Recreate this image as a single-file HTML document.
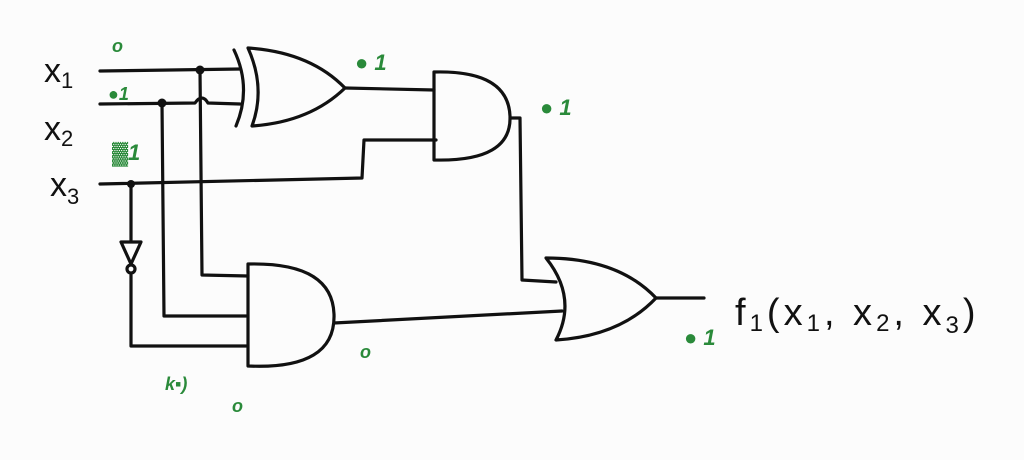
<!DOCTYPE html>
<html><head><meta charset="utf-8"><style>
body{margin:0;width:1024px;height:460px;background:#fcfcfc;overflow:hidden}
svg{display:block}
.w{fill:none;stroke:#111;stroke-width:3.2;stroke-linecap:round;stroke-linejoin:round}
.t{font-family:"Liberation Sans",sans-serif;fill:#111}
.g{font-family:"Liberation Sans",sans-serif;fill:#2a8a3a;font-style:italic;font-weight:bold}
</style></head><body>
<svg width="1024" height="460" viewBox="0 0 1024 460">
<g>
<text class="t" x="44" y="82" font-size="34">x<tspan font-size="22" dy="6">1</tspan></text>
<text class="t" x="44" y="140" font-size="34">x<tspan font-size="22" dy="6">2</tspan></text>
<text class="t" x="50" y="196" font-size="34">x<tspan font-size="22" dy="8">3</tspan></text>
</g>
<g>
<path class="w" d="M100 71 L240 69"/>
<path class="w" d="M100 104 L195 103 Q202 93 208 103 L240 104"/>
<path class="w" d="M200 70 L202 275 L248 276"/>
<path class="w" d="M162 103 L164 316 L246 316"/>
<path class="w" d="M100 184 L362 178 L364 140 L436 140"/>
<path class="w" d="M131 184 L131 240"/>
<path class="w" d="M131 275 L131 346 L246 346"/>
<path class="w" d="M345 88 L434 90"/>
<path class="w" d="M510 118 L520 118 L522 280 L556 282"/>
<path class="w" d="M334 323 L562 311"/>
<path class="w" d="M656 298 L704 298"/>
</g>
<g>
<circle cx="200" cy="70" r="4.5" fill="#111"/><circle cx="162" cy="103" r="4.5" fill="#111"/><circle cx="131" cy="184" r="4" fill="#111"/>
</g>
<g>
<path class="w" d="M234 50 Q252 88 236 126"/>
<path class="w" d="M248 48 Q266 88 252 126 Q310 122 345 88 Q310 52 248 48 Z"/>
</g>
<path class="w" d="M434 72 L434 160 Q512 162 510 116 Q508 70 434 72 Z"/>
<path class="w" d="M248 264 L248 366 Q336 370 334 314 Q332 262 248 264 Z"/>
<path class="w" d="M546 258 Q578 298 556 340 Q620 336 656 298 Q618 258 546 258 Z"/>
<g>
<path class="w" d="M121 242 L141 242 L131 264 Z"/><circle class="w" cx="131" cy="269" r="4"/>
</g>
<text class="t" x="735" y="325" font-size="38" letter-spacing="4">f<tspan font-size="24" dy="6">1</tspan><tspan dy="-6">(x</tspan><tspan font-size="24" dy="6">1</tspan><tspan dy="-6">, x</tspan><tspan font-size="24" dy="6">2</tspan><tspan dy="-6">, x</tspan><tspan font-size="24" dy="8">3</tspan><tspan dy="-8">)</tspan></text>
<g>
<text class="g" x="112" y="52" font-size="18">o</text>
<text class="g" x="108" y="100" font-size="18">●1</text>
<text class="g" x="112" y="160" font-size="22">▓1</text>
<text class="g" x="355" y="70" font-size="22">● 1</text>
<text class="g" x="540" y="115" font-size="22">● 1</text>
<text class="g" x="360" y="358" font-size="18">o</text>
<text class="g" x="165" y="390" font-size="18">k▪)</text>
<text class="g" x="232" y="412" font-size="18">o</text>
<text class="g" x="684" y="345" font-size="22">● 1</text>
</g>
</svg>
</body></html>
